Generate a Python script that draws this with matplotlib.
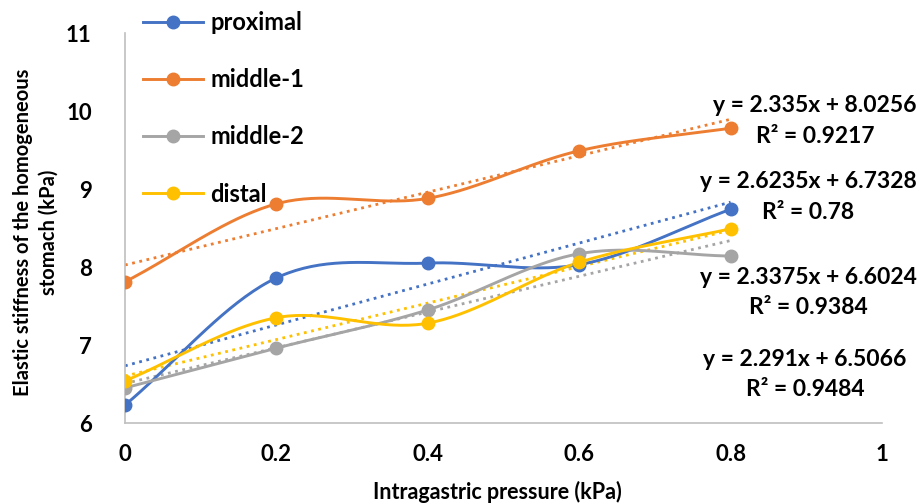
import numpy as np
import matplotlib
matplotlib.use("Agg")
import matplotlib.pyplot as plt

plt.rcParams['font.family'] = ['Lato', 'DejaVu Sans']

pressure = [0, 0.2, 0.4, 0.6, 0.8]
series_names = ["proximal", "middle-1", "middle-2", "distal"]
proximal = [6.23, 7.86, 8.05, 8.03, 8.74]
middle_1 = [7.81, 8.81, 8.88, 9.49, 9.78]
middle_2 = [6.45, 6.96, 7.45, 8.17, 8.14]
distal = [6.54, 7.35, 7.28, 8.06, 8.49]
colors = ["#4472C4", "#ED7D31", "#A5A5A5", "#FFC000"]

# trendline equations as shown in the chart
slopes = [2.6235, 2.335, 2.291, 2.3375]
intercepts = [6.7328, 8.0256, 6.5066, 6.6024]
eq_lines = [("y = 2.335x + 8.0256", "R² = 0.9217"),
            ("y = 2.6235x + 6.7328", "R² = 0.78"),
            ("y = 2.3375x + 6.6024", "R² = 0.9384"),
            ("y = 2.291x + 6.5066", "R² = 0.9484")]
xticks = [0, 0.2, 0.4, 0.6, 0.8, 1]
yticks = [6, 7, 8, 9, 10, 11]


def smooth(x, y, n=40):
    x = np.asarray(x, float)
    y = np.asarray(y, float)
    px = np.concatenate([[2 * x[0] - x[1]], x, [2 * x[-1] - x[-2]]])
    py = np.concatenate([[2 * y[0] - y[1]], y, [2 * y[-1] - y[-2]]])
    xs, ys = [], []
    t = np.linspace(0, 1, n)
    for i in range(1, len(px) - 2):
        p0, p1, p2, p3 = (np.array([px[j], py[j]]) for j in range(i - 1, i + 3))
        c1 = p1 + (p2 - p0) / 6
        c2 = p2 - (p3 - p1) / 6
        b = ((1 - t) ** 3)[:, None] * p1 + (3 * (1 - t) ** 2 * t)[:, None] * c1 \
            + (3 * (1 - t) * t ** 2)[:, None] * c2 + (t ** 3)[:, None] * p2
        xs.extend(b[:, 0])
        ys.extend(b[:, 1])
    return np.array(xs), np.array(ys)


fig = plt.figure(figsize=(9.21, 5.04), dpi=100)
ax = fig.add_axes([125 / 921, 1 - 423 / 504, (882 - 125) / 921, (423 - 33) / 504])

data = [proximal, middle_1, middle_2, distal]
handles = []
for name, vals, c, s, b in zip(series_names, data, colors, slopes, intercepts):
    sx, sy = smooth(pressure, vals)
    ax.plot(sx, sy, color=c, lw=2.1, zorder=3)
    ax.plot(pressure, vals, 'o', color=c, ms=9, zorder=4)
    tx = np.array([pressure[0], pressure[-1]])
    ax.plot(tx, s * tx + b, ':', color=c, lw=2.0, zorder=2)
    h, = ax.plot([], [], '-o', color=c, lw=2.1, ms=9)
    handles.append(h)

ax.set_xlim(0, 1)
ax.set_ylim(6, 11)
ax.set_xticks(xticks)
ax.set_xticklabels(["0", "0.2", "0.4", "0.6", "0.8", "1"])
ax.set_yticks(yticks)
for sp in ["top", "right"]:
    ax.spines[sp].set_visible(False)
for sp in ["left", "bottom"]:
    ax.spines[sp].set_color("#BFBFBF")
    ax.spines[sp].set_linewidth(1.2)
ax.tick_params(length=0, labelsize=16, pad=15)
ax.tick_params(axis='y', pad=24)
for lab in ax.get_xticklabels() + ax.get_yticklabels():
    lab.set_fontweight('bold')

fig.text(497 / 921, 1 - 492 / 504, "Intragastric pressure (kPa)", ha='center', va='center',
         fontsize=15.5, fontweight='bold')
fig.text(36 / 921, 1 - 232 / 504, "Elastic stiffness of the homogeneous\nstomach (kPa)",
         rotation=90, ha='center', va='center', fontsize=14.5, fontweight='bold',
         linespacing=1.35)

leg = fig.legend(handles, series_names, loc='upper left', bbox_to_anchor=(143 / 921, 1 - 11 / 504),
                 frameon=False, labelspacing=1.45, handlelength=2.55, borderpad=0,
                 borderaxespad=0, handletextpad=0.3, prop={'weight': 'bold', 'size': 17})

eq_y = [(105, 137), (182, 212), (278, 308), (360, 390)]
eq_x = [815, 808, 808, 805]
for (l1, l2), (y1, y2), xx in zip(eq_lines, eq_y, eq_x):
    fig.text(xx / 921, 1 - y1 / 504, l1, ha='center', va='center', fontsize=16.5,
             fontweight='bold')
    fig.text(xx / 921, 1 - y2 / 504, l2, ha='center', va='center', fontsize=16.5,
             fontweight='bold')

fig.savefig("out.png", dpi=100)
